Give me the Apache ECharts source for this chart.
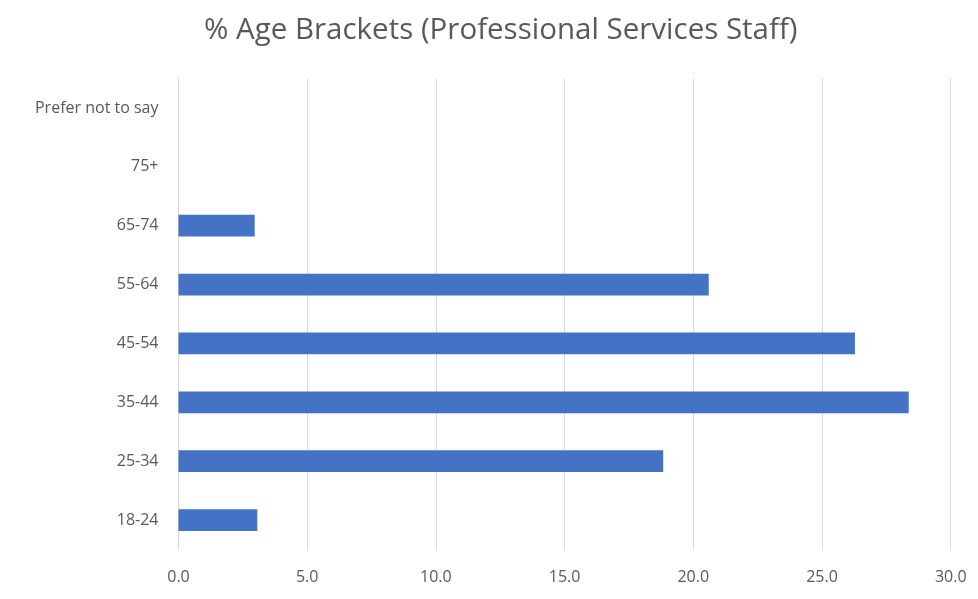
<!DOCTYPE html>
<html>
<head>
<meta charset="utf-8">
<script src="https://cdn.jsdelivr.net/npm/echarts@6/dist/echarts.min.js"></script>
<style>
  html, body { margin: 0; padding: 0; background: #ffffff; }
  #chart { width: 978px; height: 599px; }
</style>
</head>
<body>
<div id="chart"></div>
<script>
// Age brackets, bottom to top on the category axis
const categories = ['18-24', '25-34', '35-44', '45-54', '55-64', '65-74', '75+', 'Prefer not to say'];
// Share of professional services staff in each bracket (%)
const percentages = [3.06, 18.83, 28.37, 26.28, 20.6, 2.96, 0, 0];
const xTicks = { min: 0, max: 30, interval: 5 };

const chart = echarts.init(document.getElementById('chart'));
chart.setOption({
  backgroundColor: '#ffffff',
  animation: false,
  title: {
    text: '% Age Brackets (Professional Services Staff)',
    left: 199,
    top: 11,
    textStyle: {
      fontFamily: 'Open Sans',
      fontSize: 29.5,
      fontWeight: 'normal',
      color: '#595959'
    }
  },
  grid: {
    left: 178.5,
    right: 27.3,
    top: 78.5,
    bottom: 49.5,
    containLabel: false
  },
  xAxis: {
    type: 'value',
    min: xTicks.min,
    max: xTicks.max,
    interval: xTicks.interval,
    axisLine: { show: false },
    axisTick: { show: false },
    splitLine: { show: true, lineStyle: { color: '#d9d9d9', width: 1 } },
    axisLabel: {
      formatter: v => v.toFixed(1),
      color: '#595959',
      fontFamily: 'Open Sans',
      fontSize: 16,
      margin: 20
    }
  },
  yAxis: {
    type: 'category',
    data: categories,
    axisLine: { show: true, lineStyle: { color: '#d9d9d9', width: 1 } },
    axisTick: { show: false },
    axisLabel: {
      color: '#595959',
      fontFamily: 'Open Sans',
      fontSize: 16,
      margin: 20
    }
  },
  series: [{
    type: 'bar',
    data: percentages,
    barWidth: '37%',
    itemStyle: { color: '#4472c4' }
  }]
});
</script>
</body>
</html>
